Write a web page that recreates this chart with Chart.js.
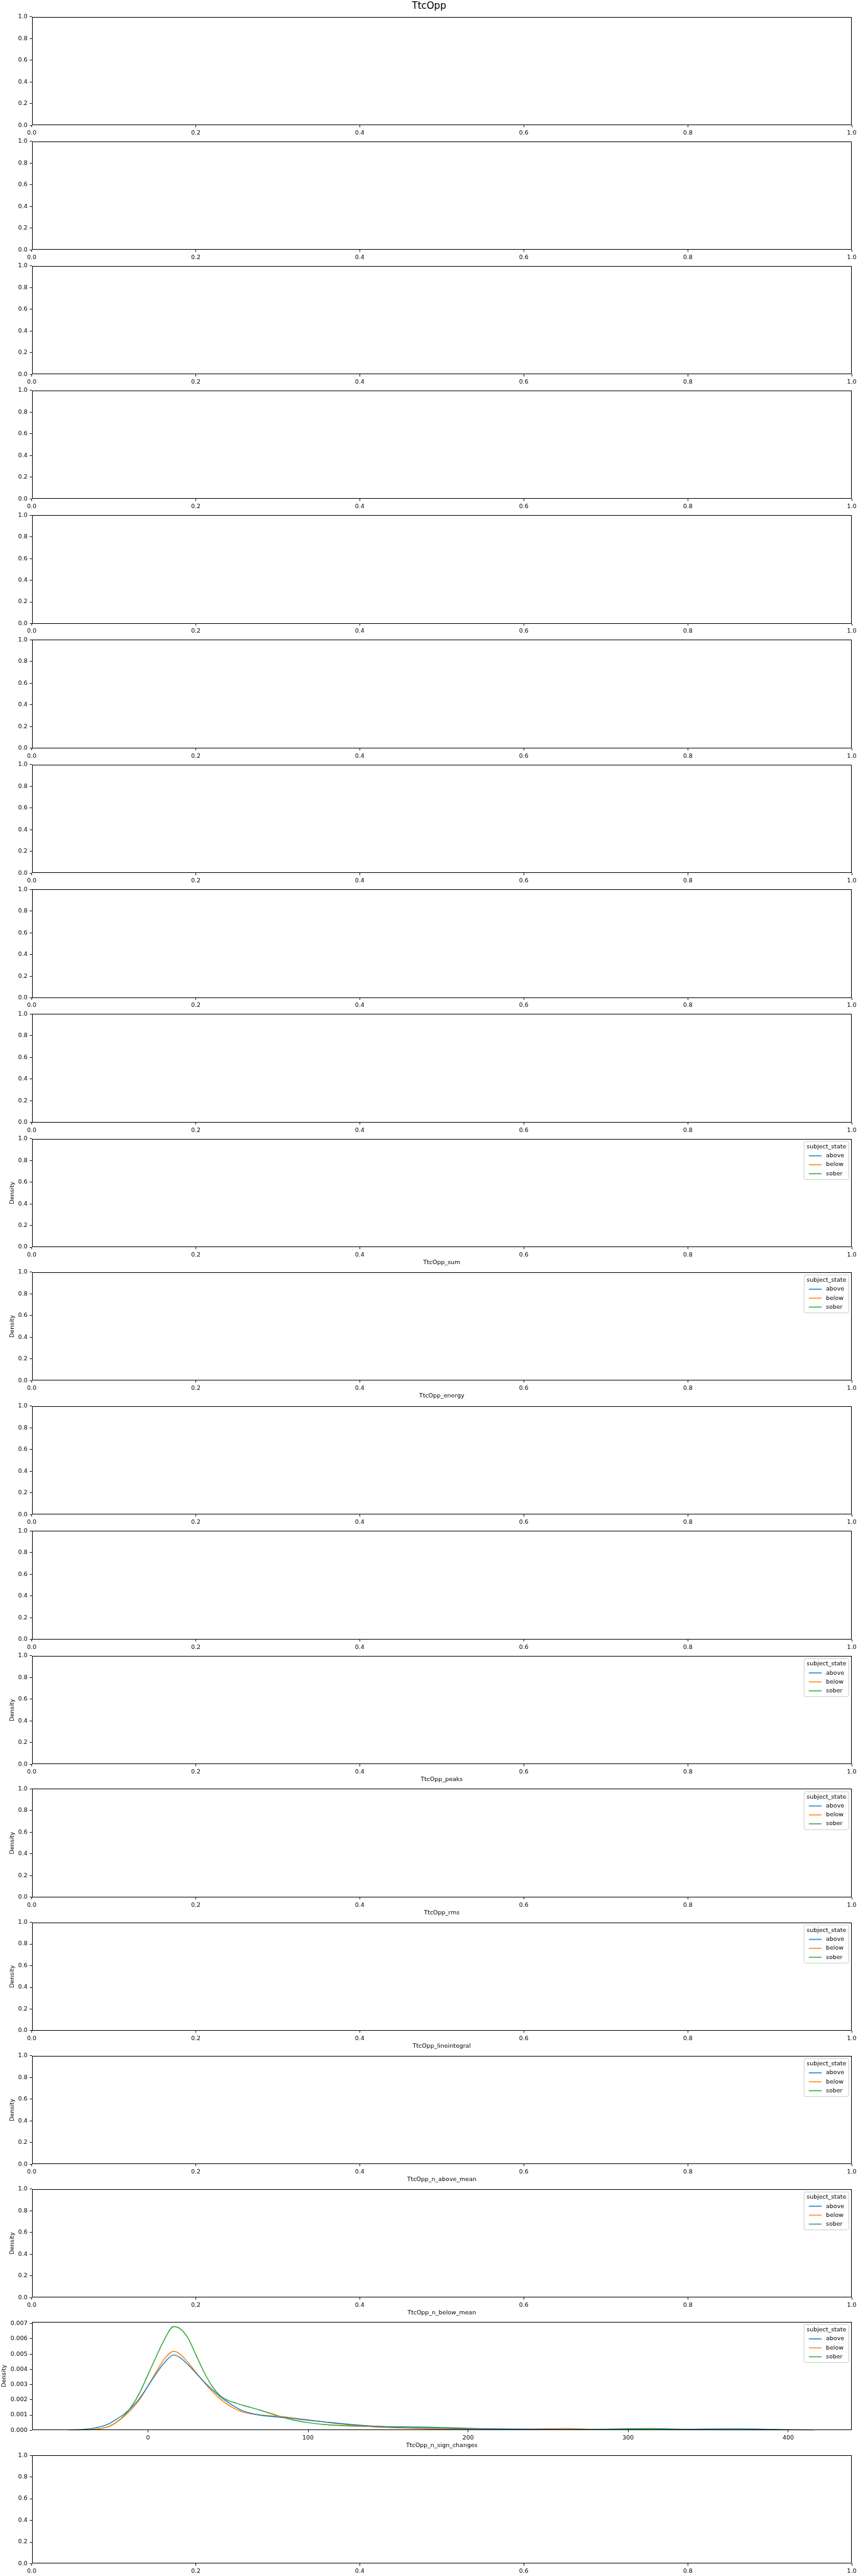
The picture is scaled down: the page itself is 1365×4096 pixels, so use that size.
<!DOCTYPE html>
<html><head><meta charset="utf-8">
<script src="https://cdn.jsdelivr.net/npm/chart.js@4.4.0/dist/chart.umd.min.js"></script>
<style>
html,body{margin:0;padding:0;background:#fff;}
#fig{position:relative;width:1365px;height:4096px;overflow:hidden;background:#fff;}
.ax{position:absolute;left:0;display:block;}
#title{position:absolute;left:0;width:1365px;text-align:center;font-family:'DejaVu Sans',sans-serif;line-height:1;color:#000;white-space:nowrap;}
</style></head><body><div id="fig"><div id="title"></div></div>
<script>
// ---------------- data ----------------
const figTitle = 'TtcOpp';
const featureLabels = ['', '', '', '', '', '', '', '', '', 'TtcOpp_sum', 'TtcOpp_energy', '', '',
  'TtcOpp_peaks', 'TtcOpp_rms', 'TtcOpp_lineintegral', 'TtcOpp_n_above_mean', 'TtcOpp_n_below_mean',
  'TtcOpp_n_sign_changes', ''];
const yAxisLabel = 'Density';
const legendTitle = 'subject_state';
const hueLevels = ['above', 'below', 'sober'];
const hueColors = ['#1f77b4', '#ff7f0e', '#2ca02c'];
const unitTicks = [0, 0.2, 0.4, 0.6, 0.8, 1.0];
const kdePanel = 18;
const kdeXTicks = [0, 100, 200, 300, 400];
const kdeYTicks = [0, 0.001, 0.002, 0.003, 0.004, 0.005, 0.006, 0.007];
const kdeX     = [-50, -40, -30, -25, -20, -15, -10, -5, 0, 5, 10, 16, 20, 25, 30, 35, 40, 45, 50, 55, 60, 70, 80, 90, 100, 110, 120, 135, 150, 175, 200, 225, 250, 262, 280, 300, 316, 335, 350, 368, 390, 416];
const kdeAbove = [0.00002, 0.00006, 0.00022, 0.00040, 0.00070, 0.00105, 0.00153, 0.00212, 0.00290, 0.00370, 0.00440, 0.00494, 0.00477, 0.00430, 0.00375, 0.00318, 0.00268, 0.00222, 0.00183, 0.00150, 0.00124, 0.00099, 0.00088, 0.00078, 0.00066, 0.00055, 0.00044, 0.00031, 0.00022, 0.00015, 0.00011, 0.00008, 0.00006, 0.00005, 0.00005, 0.00005, 0.00005, 0.00006, 0.00008, 0.00009, 0.00006, 0.00002];
const kdeBelow = [0.00001, 0.00002, 0.00009, 0.00022, 0.00050, 0.00090, 0.00140, 0.00205, 0.00290, 0.00380, 0.00465, 0.00518, 0.00500, 0.00446, 0.00380, 0.00316, 0.00257, 0.00207, 0.00167, 0.00138, 0.00117, 0.00100, 0.00094, 0.00082, 0.00068, 0.00054, 0.00041, 0.00027, 0.00017, 0.00009, 0.00006, 0.00007, 0.00010, 0.00011, 0.00006, 0.00003, 0.00002, 0.00001, 0.00001, 0.00001, 0.00001, 0.00001];
const kdeSober = [0.00001, 0.00002, 0.00010, 0.00022, 0.00050, 0.00095, 0.00160, 0.00250, 0.00365, 0.00480, 0.00590, 0.00680, 0.00667, 0.00605, 0.00494, 0.00383, 0.00290, 0.00228, 0.00196, 0.00178, 0.00162, 0.00132, 0.00099, 0.00069, 0.00050, 0.00038, 0.00031, 0.00026, 0.00024, 0.00021, 0.00012, 0.00006, 0.00004, 0.00004, 0.00007, 0.00010, 0.00011, 0.00007, 0.00004, 0.00002, 0.00001, 0.00001];
const kdeSeries = [kdeAbove, kdeBelow, kdeSober];

// ---------------- layout (reference px, scaled by S) ----------------
const S = 0.948;
const axTops = [28.1, 237.1, 446.2, 655.0, 864.0, 1073.3, 1282.7, 1491.8, 1700.8, 1909.9, 2133.7, 2358.5, 2568.0, 2777.3, 3000.4, 3224.2, 3448.0, 3671.8, 3894.3, 4118.2];
const axHeight = 181.9;
const axLeft = 53.3, axRight = 1429.4;
const kdeXRange = [-72.6, 439.7];
const kdeYRange = [0, 0.00712];
const FONT = 'DejaVu Sans';
const W = 1365;

const t = document.getElementById('title');
t.textContent = figTitle;
t.style.fontSize = (16 * S) + 'px';
t.style.top = (1.5) + 'px';

const boxPlugin = {
  id: 'spines',
  afterDatasetsDraw(chart) {
    const a = chart.chartArea, c = chart.ctx;
    c.save();
    c.strokeStyle = '#000';
    c.lineWidth = 1;
    const l = Math.round(a.left) + 0.5, r = Math.round(a.right) - 0.5;
    const tp = Math.round(a.top) + 0.5, b = Math.round(a.bottom) - 0.5;
    c.strokeRect(l, tp, r - l, b - tp);
    c.restore();
  }
};

const hueLegend = {
  id: 'hueLegend',
  afterDraw(chart, args, opts) {
    if (!opts.show) return;
    const a = chart.chartArea, c = chart.ctx;
    const fs = 10 * S;
    c.save();
    c.font = fs + 'px "' + FONT + '"';
    const tw = c.measureText(legendTitle).width;
    const bw = tw + 8.4 * S, bh = 63.6 * S;
    const bx = a.right - 5.1 * S - bw, by = a.top + 4.8 * S;
    const rr = 2 * S;
    c.beginPath();
    c.moveTo(bx + rr, by);
    c.lineTo(bx + bw - rr, by); c.arcTo(bx + bw, by, bx + bw, by + rr, rr);
    c.lineTo(bx + bw, by + bh - rr); c.arcTo(bx + bw, by + bh, bx + bw - rr, by + bh, rr);
    c.lineTo(bx + rr, by + bh); c.arcTo(bx, by + bh, bx, by + bh - rr, rr);
    c.lineTo(bx, by + rr); c.arcTo(bx, by, bx + rr, by, rr);
    c.closePath();
    c.fillStyle = 'rgba(255,255,255,0.8)';
    c.fill();
    c.strokeStyle = '#cccccc';
    c.lineWidth = 1;
    c.stroke();
    c.fillStyle = '#000';
    c.textBaseline = 'middle';
    c.textAlign = 'center';
    c.fillText(legendTitle, bx + bw / 2, a.top + 13.7 * S);
    c.textAlign = 'left';
    chart.data.datasets.forEach((ds, k) => {
      const yy = a.top + (28.7 + 15 * k) * S;
      c.strokeStyle = ds.borderColor;
      c.globalAlpha = 0.75;
      c.lineWidth = 1.5 * S * 1.4;
      c.beginPath();
      c.moveTo(bx + 8 * S, yy);
      c.lineTo(bx + 29.4 * S, yy);
      c.stroke();
      c.globalAlpha = 1;
      c.fillText(ds.label, bx + 36.7 * S, yy);
    });
    c.restore();
  }
};

function makePanel(i) {
  const fig = document.getElementById('fig');
  const isKde = i === kdePanel;
  const xl = featureLabels[i];
  const hasHue = xl !== '';
  const topPx = axTops[i] * S;
  const canvasTop = Math.floor(topPx - 22 * S);
  const padTop = topPx - canvasTop;
  const axH = axHeight * S;
  const H = Math.ceil(padTop + axH + 46 * S);
  const xAxisH = H - padTop - axH;
  const lh = 10 * S * 1.2;
  const xTitlePadBottom = H - (padTop + axH + 26 * S) - lh / 2;
  const cv = document.createElement('canvas');
  cv.className = 'ax';
  cv.width = W; cv.height = H;
  cv.style.width = W + 'px'; cv.style.height = H + 'px';
  cv.style.top = canvasTop + 'px';
  fig.appendChild(cv);

  const datasets = hasHue ? hueLevels.map((lev, k) => ({
    label: lev,
    data: isKde ? kdeX.map((x, j) => ({x: x, y: kdeSeries[k][j]})) : [],
    borderColor: hueColors[k],
    backgroundColor: hueColors[k],
    borderWidth: 1.5 * S,
    pointRadius: 0,
    fill: false,
    cubicInterpolationMode: 'monotone'
  })) : [];

  const xt = isKde ? kdeXTicks : unitTicks;
  const yt = isKde ? kdeYTicks : unitTicks;
  const xr = isKde ? kdeXRange : [0, 1];
  const yr = isKde ? kdeYRange : [0, 1];
  const tickFont = {family: FONT, size: 10 * S};
  const gridCfg = {display: true, drawOnChartArea: false, drawTicks: true, tickLength: 3.5 * S, color: '#000', lineWidth: 0.9};

  new Chart(cv, {
    type: 'line',
    data: {datasets},
    plugins: [boxPlugin, hueLegend],
    options: {
      responsive: false,
      animation: false,
      devicePixelRatio: 1,
      events: [],
      layout: {padding: {left: 0, right: W - axRight * S, top: padTop, bottom: 0}},
      plugins: {legend: {display: false}, tooltip: {enabled: false}, hueLegend: {show: hasHue}},
      scales: {
        x: {
          type: 'linear', min: xr[0], max: xr[1],
          afterBuildTicks: s => { s.ticks = xt.map(v => ({value: v})); },
          ticks: {font: tickFont, color: '#000', padding: 3.5 * S, maxRotation: 0, autoSkip: false,
                  callback: v => isKde ? String(v) : v.toFixed(1)},
          grid: gridCfg,
          border: {display: false},
          title: {display: hasHue, text: xl, color: '#000', font: {family: FONT, size: 10 * S},
                  padding: {top: 0, bottom: xTitlePadBottom}},
          afterFit: s => { s.height = xAxisH; s.paddingLeft = 0; s.paddingRight = 0; }
        },
        y: {
          type: 'linear', min: yr[0], max: yr[1],
          afterBuildTicks: s => { s.ticks = yt.map(v => ({value: v})); },
          ticks: {font: tickFont, color: '#000', padding: 3.5 * S, autoSkip: false,
                  callback: v => isKde ? v.toFixed(3) : v.toFixed(1)},
          grid: gridCfg,
          border: {display: false},
          title: {display: hasHue, text: yAxisLabel, color: '#000', font: {family: FONT, size: 10 * S},
                  padding: {top: isKde ? 0.9 : 13.9, bottom: 0}},
          afterFit: s => { s.width = axLeft * S; s.paddingTop = 0; s.paddingBottom = 0; }
        }
      }
    }
  });
}
for (let i = 0; i < featureLabels.length; i++) makePanel(i);
</script>
</body></html>
